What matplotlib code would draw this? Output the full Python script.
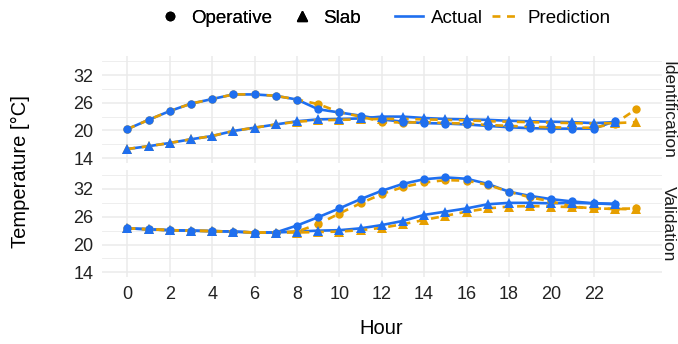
import matplotlib
matplotlib.use("Agg")
import matplotlib.pyplot as plt
from matplotlib.lines import Line2D

plt.rcParams['font.family'] = ['Liberation Sans', 'DejaVu Sans']

BLUE = '#1F6FEF'
ORANGE = '#E69F00'
GRID = '#EBEBEB'

hours_act = list(range(24))
hours_pred = list(range(25))

# Identification panel
op_id_act = [20.3, 22.3, 24.2, 25.8, 26.8, 27.8, 27.8, 27.5, 26.7, 24.6, 23.9, 23.2,
             22.4, 21.9, 21.6, 21.5, 21.3, 21.0, 20.7, 20.5, 20.4, 20.4, 20.4, 22.0]
op_id_pred = [20.3, 22.3, 24.2, 25.8, 26.8, 27.8, 27.8, 27.5, 26.7, 25.7, 24.0, 23.0,
              21.9, 21.7, 21.8, 21.6, 21.5, 21.2, 21.0, 20.8, 20.7, 20.6, 20.6, 21.5, 24.6]
sl_id_act = [16.0, 16.6, 17.3, 18.1, 18.8, 19.9, 20.6, 21.3, 22.0, 22.4, 22.5, 22.6,
             23.0, 23.0, 22.7, 22.5, 22.4, 22.3, 22.1, 22.0, 21.9, 21.8, 21.6, 21.8]
sl_id_pred = [16.0, 16.6, 17.3, 18.1, 18.8, 19.9, 20.6, 21.3, 21.9, 22.2, 22.3, 22.4,
              22.5, 22.5, 22.4, 22.3, 22.2, 22.0, 21.9, 21.8, 21.7, 21.6, 21.5, 21.6, 21.8]

# Validation panel
op_va_act = [23.5, 23.3, 23.1, 23.0, 22.9, 22.8, 22.6, 22.6, 24.1, 25.9, 27.8, 29.8,
             31.6, 33.1, 34.1, 34.5, 34.2, 33.1, 31.4, 30.5, 29.8, 29.3, 28.9, 28.8]
op_va_pred = [23.5, 23.3, 23.1, 23.0, 22.9, 22.8, 22.6, 22.6, 22.8, 24.4, 26.7, 28.9,
              30.9, 32.4, 33.4, 33.9, 33.8, 32.9, 31.4, 30.2, 29.3, 28.2, 27.8, 27.7, 27.8]
sl_va_act = [23.5, 23.3, 23.1, 23.0, 22.9, 22.8, 22.6, 22.6, 22.8, 23.0, 23.1, 23.5,
             24.2, 25.1, 26.4, 27.1, 27.8, 28.7, 29.0, 29.0, 28.9, 29.0, 28.9, 28.7]
sl_va_pred = [23.5, 23.3, 23.1, 23.0, 22.9, 22.8, 22.6, 22.6, 22.6, 22.7, 22.8, 23.1,
              23.6, 24.4, 25.3, 26.2, 27.1, 27.8, 28.2, 28.3, 28.2, 28.1, 27.8, 27.7, 27.6]

panels = [
    ("Identification", op_id_act, op_id_pred, sl_id_act, sl_id_pred),
    ("Validation", op_va_act, op_va_pred, sl_va_act, sl_va_pred),
]

y_ticks = [14, 20, 26, 32]
y_minor = [17, 23, 29, 35]
x_ticks = list(range(0, 23, 2))

fig = plt.figure(figsize=(6.78, 3.44), dpi=100)
left, width = 0.1503, 0.8254
axes_pos = [(0.5259, 0.3105), (0.1942, 0.3110)]

for (name, op_a, op_p, sl_a, sl_p), (bot, h) in zip(panels, axes_pos):
    ax = fig.add_axes([left, bot, width, h])
    ax.set_xlim(-1.2, 25.2)
    ax.set_ylim(12.95, 36.05)
    for y in y_minor:
        ax.axhline(y, color=GRID, lw=0.6, zorder=0)
    for y in y_ticks:
        ax.axhline(y, color=GRID, lw=1.1, zorder=0)
    for x in x_ticks:
        ax.axvline(x, color=GRID, lw=1.1, zorder=0)

    # lines
    ax.plot(hours_act, op_a, color=BLUE, lw=1.9, zorder=2)
    ax.plot(hours_act, sl_a, color=BLUE, lw=1.9, zorder=2)
    ax.plot(hours_pred, op_p, color=ORANGE, lw=1.9, ls=(0, (3, 2.5)), zorder=3)
    ax.plot(hours_pred, sl_p, color=ORANGE, lw=1.9, ls=(0, (3, 2.5)), zorder=3)
    # points
    ax.plot(hours_pred, op_p, 'o', color=ORANGE, ms=6, mew=0, zorder=4)
    ax.plot(hours_pred, sl_p, '^', color=ORANGE, ms=7, mew=0, zorder=4)
    ax.plot(hours_act, op_a, 'o', color=BLUE, ms=6, mew=0, zorder=5)
    ax.plot(hours_act, sl_a, '^', color=BLUE, ms=7, mew=0, zorder=5)

    ax.set_yticks(y_ticks)
    ax.set_xticks(x_ticks)
    ax.tick_params(length=0, labelsize=13, colors='#222222', pad=6)
    if name == "Identification":
        ax.set_xticklabels([])
    for s in ax.spines.values():
        s.set_visible(False)
    ax.text(668 / 678, bot + h / 2, name, transform=fig.transFigure, rotation=270,
            ha='center', va='center', fontsize=12.5, color='#1A1A1A')

fig.text(0.03, 0.5, "Temperature [°C]", rotation=90, ha='center', va='center',
         fontsize=14.5)
fig.text(0.562, 0.045, "Hour", ha='center', va='center', fontsize=14.5)

shape_handles = [
    Line2D([], [], marker='o', color='black', ls='none', ms=6),
    Line2D([], [], marker='^', color='black', ls='none', ms=7),
]
line_handles = [
    Line2D([], [], color=BLUE, lw=1.9),
    Line2D([], [], color=ORANGE, lw=1.9, ls=(0, (3, 2.5))),
]
leg1 = fig.legend(shape_handles, ["Operative", "Slab"], loc='center',
                  bbox_to_anchor=(0.383, 0.947), ncol=2, frameon=False,
                  fontsize=13.5, handlelength=1.2, handletextpad=0.5,
                  columnspacing=1.0, borderpad=0)
fig.legend(line_handles, ["Actual", "Prediction"], loc='center',
           bbox_to_anchor=(0.742, 0.947), ncol=2, frameon=False,
           fontsize=13.5, handlelength=1.5, handletextpad=0.4,
           columnspacing=0.5, borderpad=0)
fig.add_artist(leg1)

fig.savefig("out.png", dpi=100)
